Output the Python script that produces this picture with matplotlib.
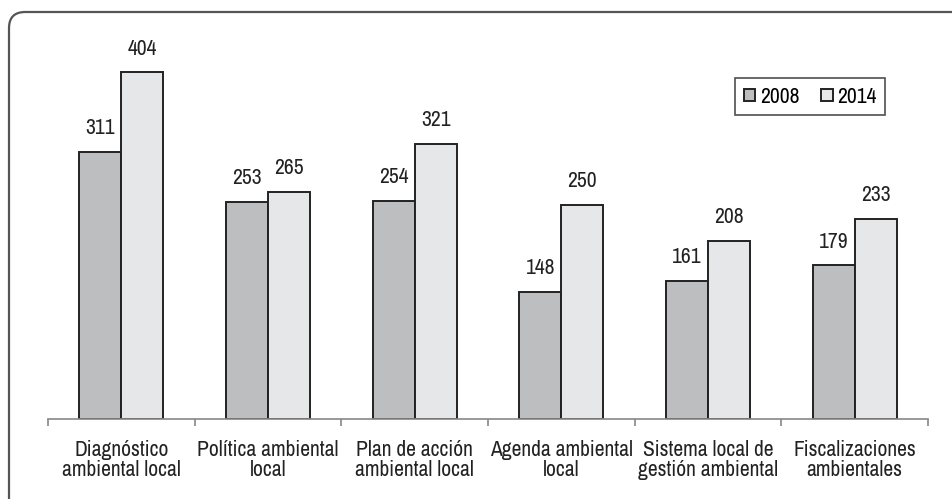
import matplotlib
matplotlib.use("Agg")
import matplotlib.pyplot as plt
from matplotlib import font_manager
from matplotlib.patches import FancyBboxPatch
import numpy as np

# data
categories = ["Diagnóstico\nambiental local", "Política ambiental\nlocal",
              "Plan de acción\nambiental local", "Agenda ambiental\nlocal",
              "Sistema local de\ngestión ambiental", "Fiscalizaciones\nambientales"]
vals_2008 = [311, 253, 254, 148, 161, 179]
vals_2014 = [404, 265, 321, 250, 208, 233]
series_names = ["2008", "2014"]

# pick a narrow sans like the Arial Narrow of the original, if there is one
installed = set(f.name for f in font_manager.fontManager.ttflist)
narrow = [n for n in ["Liberation Sans Narrow", "Arial Narrow", "Archivo Narrow",
                      "PT Sans Narrow", "Roboto Condensed", "Pragati Narrow",
                      "Encode Sans Condensed", "Fira Sans Condensed", "Liberation Sans"]
          if n in installed]
plt.rcParams['font.family'] = narrow[:1] + ['DejaVu Sans']

W, H = 952, 499
fig = plt.figure(figsize=(W / 100, H / 100), dpi=100)

# rounded frame, cut off at right and bottom
frame = FancyBboxPatch((9 / W, 1 - 12 / H - 520 / H), 960 / W, 520 / H,
                       boxstyle="round,pad=0,rounding_size=0.017",
                       transform=fig.transFigure, fill=False,
                       edgecolor="#555555", linewidth=1.6,
                       mutation_aspect=W / H)
fig.patches.append(frame)

ax = fig.add_axes([48 / W, (H - 419) / H, 880 / W, 386 / H])

fs = 15.5
x = np.arange(len(categories))
bw = 0.286
c08 = "#bdbec0"
c14 = "#e6e7e8"
b1 = ax.bar(x - bw / 2, vals_2008, bw, color=c08, edgecolor="#222222", linewidth=1.4, label=series_names[0])
b2 = ax.bar(x + bw / 2, vals_2014, bw, color=c14, edgecolor="#222222", linewidth=1.4, label=series_names[1])

for bars in (b1, b2):
    for r in bars:
        ax.annotate(str(int(r.get_height())), (r.get_x() + r.get_width() / 2, r.get_height()),
                    xytext=(0, 10), textcoords="offset points", ha="center", va="bottom",
                    fontsize=fs, color="#222222")

ax.set_xlim(-0.5, len(categories) - 0.5)
ax.set_ylim(0, 450)
ax.set_yticks([])
for s in ("left", "right", "top"):
    ax.spines[s].set_visible(False)
ax.spines["bottom"].set_color("#888888")
ax.spines["bottom"].set_linewidth(1.2)

ax.set_xticks(x)
ax.set_xticklabels(categories, fontsize=fs, color="#222222", linespacing=1.0)
ax.tick_params(axis="x", which="major", length=0, pad=15)
ax.set_xticks(np.arange(len(categories) + 1) - 0.5, minor=True)
ax.tick_params(axis="x", which="minor", length=5, width=1.2, color="#888888")

leg = ax.legend(loc="upper left", bbox_to_anchor=((735 - 48) / 880, (419 - 78) / 386),
                ncol=2, fontsize=fs, frameon=True, fancybox=False,
                handlelength=0.55, handleheight=0.55, handletextpad=0.2,
                columnspacing=1.0, borderpad=0.4, borderaxespad=0)
leg.get_frame().set_edgecolor("#222222")
leg.get_frame().set_linewidth(1.2)

fig.savefig("out.png", dpi=100)
